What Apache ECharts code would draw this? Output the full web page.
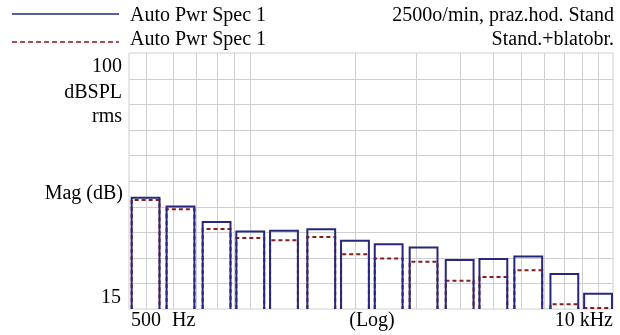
<!DOCTYPE html>
<html><head><meta charset="utf-8">
<script src="https://cdn.jsdelivr.net/npm/echarts@6/dist/echarts.min.js"></script>
<style>html,body{margin:0;padding:0;background:#fff}#c{width:620px;height:335px}</style>
</head><body><div id="c"></div>
<script>
// ---- data ----
const bandFreqs = [500, 630, 800, 1000, 1250, 1600, 2000, 2500, 3150, 4000, 5000, 6300, 8000, 10000];
const standValues = [51.9, 49.0, 43.9, 40.7, 41.0, 41.5, 37.7, 36.5, 35.4, 31.3, 31.6, 32.4, 26.6, 20.1];
const blatobrValues = [51.2, 48.1, 41.6, 38.6, 37.8, 38.9, 33.2, 31.8, 30.7, 24.4, 25.6, 27.9, 16.6, 15.3];
const gridFreqs = [500, 600, 700, 800, 900, 1000, 2000, 3000, 4000, 5000, 6000, 7000, 8000, 9000, 10000];
const gridLevels = [23.5, 32, 40.5, 49, 57.5, 66, 74.5, 83, 91.5];
const seriesNames = ['Auto Pwr Spec 1', 'Auto Pwr Spec 1'];
const seriesNotes = ['2500o/min, praz.hod. Stand', 'Stand.+blatobr.'];
const yLabels = ['100', 'dBSPL', 'rms', 'Mag (dB)', '15'];
const xLabels = ['500', 'Hz', '(Log)', '10 kHz'];
const yMin = 15, yMax = 100, xMin = 448, xMax = 11040;

// ---- styles ----
const BLUE = '#27277d', RED = '#8b1a1a', GRID = '#cfcfcf';
const FONT = '20px "Liberation Serif", "Times New Roman", serif';

const chart = echarts.init(document.getElementById('c'), null, {renderer: 'canvas'});

function vLine(params, api) {
  const p0 = api.coord([api.value(0), yMin]);
  const p1 = api.coord([api.value(0), yMax]);
  const x = Math.round(p0[0]) + 0.5;
  return {type: 'line', shape: {x1: x, y1: p0[1], x2: x, y2: p1[1]}, style: {stroke: GRID, lineWidth: 1}};
}
function hLine(params, api) {
  const p0 = api.coord([xMin, api.value(1)]);
  const p1 = api.coord([xMax, api.value(1)]);
  const y = Math.round(p0[1]) + 0.5;
  return {type: 'line', shape: {x1: p0[0], y1: y, x2: p1[0], y2: y}, style: {stroke: GRID, lineWidth: 1}};
}
function barOutline(color, dash) {
  return function (params, api) {
    const f = api.value(0), v = api.value(1);
    const k = Math.pow(10, 0.04);
    const l = api.coord([f / k, v]);
    const r = api.coord([f * k, v]);
    const b = api.coord([f, yMin]);
    return {
      type: 'polyline',
      shape: {points: [[l[0], b[1]], [l[0], l[1]], [r[0], r[1]], [r[0], b[1]]]},
      style: {stroke: color, fill: null, lineWidth: 2, lineDash: dash}
    };
  };
}

const legendText = (t, x, y, align) => ({
  type: 'text', x: x, y: y, z: 10,
  style: {text: t, font: FONT, fill: '#000', align: align, verticalAlign: 'middle'}
});

const graphics = [
  {type: 'line', shape: {x1: 12, y1: 14, x2: 119, y2: 14}, style: {stroke: BLUE, lineWidth: 1.5}},
  {type: 'line', shape: {x1: 12, y1: 42, x2: 119, y2: 42}, style: {stroke: RED, lineWidth: 1.5, lineDash: [5, 3]}},
  legendText(seriesNames[0], 130, 15.5, 'left'),
  legendText(seriesNames[1], 130, 39.5, 'left'),
  legendText(seriesNotes[0], 614, 15.5, 'right'),
  legendText(seriesNotes[1], 614, 39.5, 'right'),
  legendText(yLabels[0], 122, 67, 'right'),
  legendText(yLabels[1], 122, 92.5, 'right'),
  legendText(yLabels[2], 122, 116.5, 'right'),
  legendText(yLabels[3], 123, 194, 'right'),
  legendText(yLabels[4], 121, 298, 'right'),
  legendText(xLabels[0], 131, 321, 'left'),
  legendText(xLabels[1], 172, 321, 'left'),
  legendText(xLabels[2], 372, 321, 'center'),
  legendText(xLabels[3], 613, 321, 'right')
];

chart.setOption({
  animation: false,
  backgroundColor: '#fff',
  grid: {left: 129, top: 53, width: 484, height: 256, show: true, borderColor: GRID, borderWidth: 1, backgroundColor: 'transparent'},
  xAxis: {type: 'log', logBase: 10, min: xMin, max: xMax,
    axisLine: {show: false}, axisTick: {show: false}, axisLabel: {show: false}, splitLine: {show: false}},
  yAxis: {type: 'value', min: yMin, max: yMax,
    axisLine: {show: false}, axisTick: {show: false}, axisLabel: {show: false}, splitLine: {show: false}},
  graphic: graphics,
  series: [
    {type: 'custom', silent: true, z: 1, renderItem: vLine, data: gridFreqs.map(f => [f, yMin])},
    {type: 'custom', silent: true, z: 1, renderItem: hLine, data: gridLevels.map(v => [xMin, v])},
    {type: 'custom', name: seriesNames[1], silent: true, z: 2, renderItem: barOutline(RED, [4, 3]),
      data: bandFreqs.map((f, i) => [f, blatobrValues[i]])},
    {type: 'custom', name: seriesNames[0], silent: true, z: 3, renderItem: barOutline(BLUE, null),
      data: bandFreqs.map((f, i) => [f, standValues[i]])}
  ]
});
</script>
</body></html>
